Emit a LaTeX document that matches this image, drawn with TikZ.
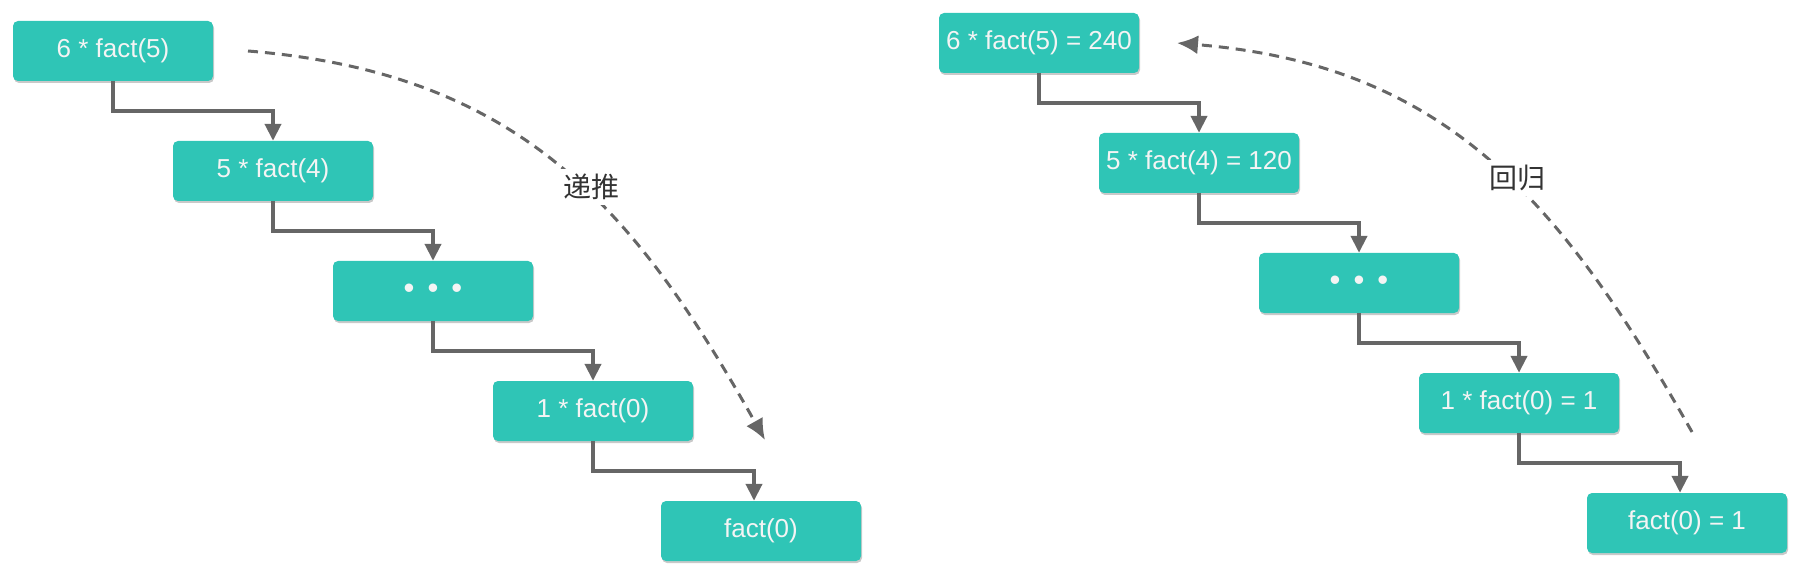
\documentclass[tikz,border=0pt]{standalone}
\usepackage{fontspec}
\setmainfont{Liberation Sans}
\newfontfamily\cjk{Noto Sans CJK SC}
\usetikzlibrary{arrows.meta,shadows}
\definecolor{tealbox}{HTML}{2FC5B6}
\definecolor{lineg}{HTML}{666666}
\definecolor{txtg}{HTML}{333333}
\definecolor{boxtxt}{HTML}{F4F4F4}
\newcommand{\threedots}{{\fontsize{31}{31}\selectfont •\hspace{13pt}•\hspace{13pt}•}}
\begin{document}
\begin{tikzpicture}[x=1pt,y=-1pt,
  box/.style={fill=tealbox, rounded corners=5pt, minimum width=200pt, minimum height=60pt,
    inner sep=0pt, text=boxtxt, font=\fontsize{26}{30}\selectfont,
    drop shadow={shadow xshift=1pt, shadow yshift=-2pt, opacity=0.3, fill=black!70}},
  conn/.style={draw=lineg, line width=4pt, -{Triangle[length=17pt,width=16pt]}},
  dcurve/.style={draw=lineg, line width=3pt, dash pattern=on 10pt off 7pt,
    -{Latex[length=21pt,width=19pt]}},
  lab/.style={fill=white, text=txtg, font=\cjk\fontsize{28}{32}\selectfont, inner sep=5pt}]
\useasboundingbox (0,0) rectangle (1817,585);
% left column
\node[box] (B1) at (113,51) {6 * fact(5)};
\node[box] (B2) at (273,171) {5 * fact(4)};
\node[box] (B3) at (433,291) {\threedots};
\node[box] (B4) at (593,411) {1 * fact(0)};
\node[box] (B5) at (761,531) {fact(0)};
\draw[conn] (B1.south) -- ++(0,30) -| (B2.north);
\draw[conn] (B2.south) -- ++(0,30) -| (B3.north);
\draw[conn] (B3.south) -- ++(0,30) -| (B4.north);
\draw[conn] (B4.south) -- ++(0,30) -| ([xshift=-7pt]B5.north);
\coordinate (ls) at (248,51);
\coordinate (le) at (765,440);
\draw[dcurve] (ls) .. controls (518,73) and (633,205) .. (le);
\node[lab] (lt) at (591,187) {递推};
% right column
\node[box] (R1) at (1039,43) {6 * fact(5) = 240};
\node[box] (R2) at (1199,163) {5 * fact(4) = 120};
\node[box] (R3) at (1359,283) {\threedots};
\node[box] (R4) at (1519,403) {1 * fact(0) = 1};
\node[box] (R5) at (1687,523) {fact(0) = 1};
\draw[conn] (R1.south) -- ++(0,30) -| (R2.north);
\draw[conn] (R2.south) -- ++(0,30) -| (R3.north);
\draw[conn] (R3.south) -- ++(0,30) -| (R4.north);
\draw[conn] (R4.south) -- ++(0,30) -| ([xshift=-7pt]R5.north);
\coordinate (rs) at (1692,432);
\coordinate (re) at (1177,43);
\draw[dcurve] (rs) .. controls (1559,197) and (1444,65) .. (re);
\node[lab] (rt) at (1517,178) {回归};
\end{tikzpicture}
\end{document}
